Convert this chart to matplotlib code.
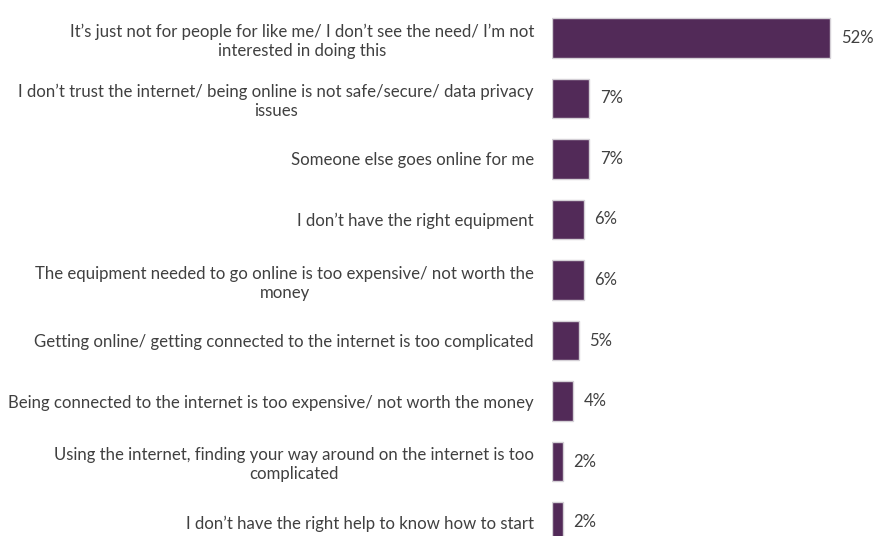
import matplotlib.pyplot as plt

reasons = [
    "It\u2019s just not for people for like me/ I don\u2019t see the need/ I\u2019m not\ninterested in doing this",
    "I don\u2019t trust the internet/ being online is not safe/secure/ data privacy\nissues",
    "Someone else goes online for me",
    "I don\u2019t have the right equipment",
    "The equipment needed to go online is too expensive/ not worth the\nmoney",
    "Getting online/ getting connected to the internet is too complicated",
    "Being connected to the internet is too expensive/ not worth the money",
    "Using the internet, finding your way around on the internet is too\ncomplicated",
    "I don\u2019t have the right help to know how to start",
]
pct = [52, 7, 7, 6, 6, 5, 4, 2, 2]

plt.rcParams["font.family"] = ["Lato", "DejaVu Sans"]
text_col = "#404040"

fig = plt.figure(figsize=(8.74, 5.36), dpi=100)
# axes runs a bit past the bottom edge so the last bar gets clipped
ax = fig.add_axes([552 / 874, -0.0304, 321 / 874, 1.016])

pos = list(range(len(reasons)))
ax.barh(pos, pct, height=0.66, color="#522a58", edgecolor="#d4d0d6", linewidth=1.0)

for y, v in zip(pos, pct):
    ax.annotate(f"{v}%", (v, y), xytext=(7.5, 0), textcoords="offset points",
                va="center", ha="left", fontsize=12, color=text_col)

ax.set_xlim(0, 60)
ax.set_ylim(8.5, -0.5)
ax.set_yticks(pos)
ax.set_yticklabels(reasons, fontsize=12.1, color=text_col, ha="right",
                   multialignment="center", linespacing=1.25)
ax.tick_params(axis="y", length=0, pad=13)
ax.set_xticks([])
for s in ax.spines.values():
    s.set_visible(False)

fig.savefig("out.png", dpi=100)
